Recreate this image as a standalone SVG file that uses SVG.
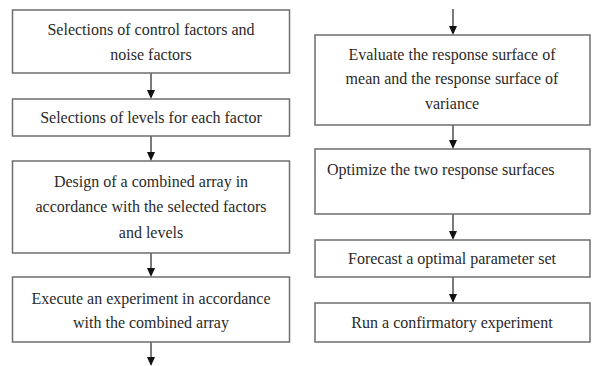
<svg xmlns="http://www.w3.org/2000/svg" width="592" height="366" viewBox="0 0 592 366">
<defs>
<marker id="ah" markerWidth="8" markerHeight="9" refX="4" refY="9" orient="auto-start-reverse" markerUnits="userSpaceOnUse" viewBox="0 0 8 9">
<path d="M0,0 L8,0 L4,9 Z" fill="#111"/>
</marker>
<style>
.box{fill:#fff;stroke:#6e6e6e;stroke-width:1.5}
.t{font-family:"Liberation Serif","Times New Roman",serif;font-size:16px;fill:#2a2a2a;text-anchor:middle}
.tl{text-anchor:start}
.c{stroke:#222;stroke-width:1.2;fill:none}
</style>
</defs>
<rect width="592" height="366" fill="#fff"/>
<g id="connectors">
<path class="c" d="M151,73 V90" />
<path d="M147,90 L155,90 L151,99 Z" fill="#111"/>
<path class="c" d="M151,136 V152" />
<path d="M147,152 L155,152 L151,161 Z" fill="#111"/>
<path class="c" d="M151,253 V268" />
<path d="M147,268 L155,268 L151,277 Z" fill="#111"/>
<path class="c" d="M151,342 V357" />
<path d="M147,357 L155,357 L151,366 Z" fill="#111"/>
<path class="c" d="M453,9 V26" />
<path d="M449,26 L457,26 L453,35 Z" fill="#111"/>
<path class="c" d="M453,125 V140" />
<path d="M449,140 L457,140 L453,149 Z" fill="#111"/>
<path class="c" d="M453,214 V231" />
<path d="M449,231 L457,231 L453,240 Z" fill="#111"/>
<path class="c" d="M453,277 V294" />
<path d="M449,294 L457,294 L453,303 Z" fill="#111"/>
</g>
<g id="n1">
<rect class="box" x="12.5" y="10" width="277" height="63"/>
<text class="t" x="151" y="35">Selections of control factors and</text>
<text class="t" x="151" y="60">noise factors</text>
</g>
<g id="n2">
<rect class="box" x="12.5" y="99" width="277" height="37"/>
<text class="t" x="151" y="123">Selections of levels for each factor</text>
</g>
<g id="n3">
<rect class="box" x="12.5" y="161" width="277" height="92"/>
<text class="t" x="151" y="187">Design of a combined array in</text>
<text class="t" x="151" y="212">accordance with the selected factors</text>
<text class="t" x="151" y="238">and levels</text>
</g>
<g id="n4">
<rect class="box" x="12.5" y="277" width="277" height="65"/>
<text class="t" x="151" y="304">Execute an experiment in accordance</text>
<text class="t" x="151" y="328">with the combined array</text>
</g>
<g id="n5">
<rect class="box" x="315" y="35" width="275" height="90"/>
<text class="t" x="452" y="60">Evaluate the response surface of</text>
<text class="t" x="452" y="84">mean and the response surface of</text>
<text class="t" x="452" y="109">variance</text>
</g>
<g id="n6">
<rect class="box" x="315" y="149" width="275" height="65"/>
<text class="t tl" x="327" y="175">Optimize the two response surfaces</text>
</g>
<g id="n7">
<rect class="box" x="315" y="240" width="275" height="37"/>
<text class="t" x="452" y="264">Forecast a optimal parameter set</text>
</g>
<g id="n8">
<rect class="box" x="315" y="303" width="275" height="39"/>
<text class="t" x="452" y="328">Run a confirmatory experiment</text>
</g>
</svg>
